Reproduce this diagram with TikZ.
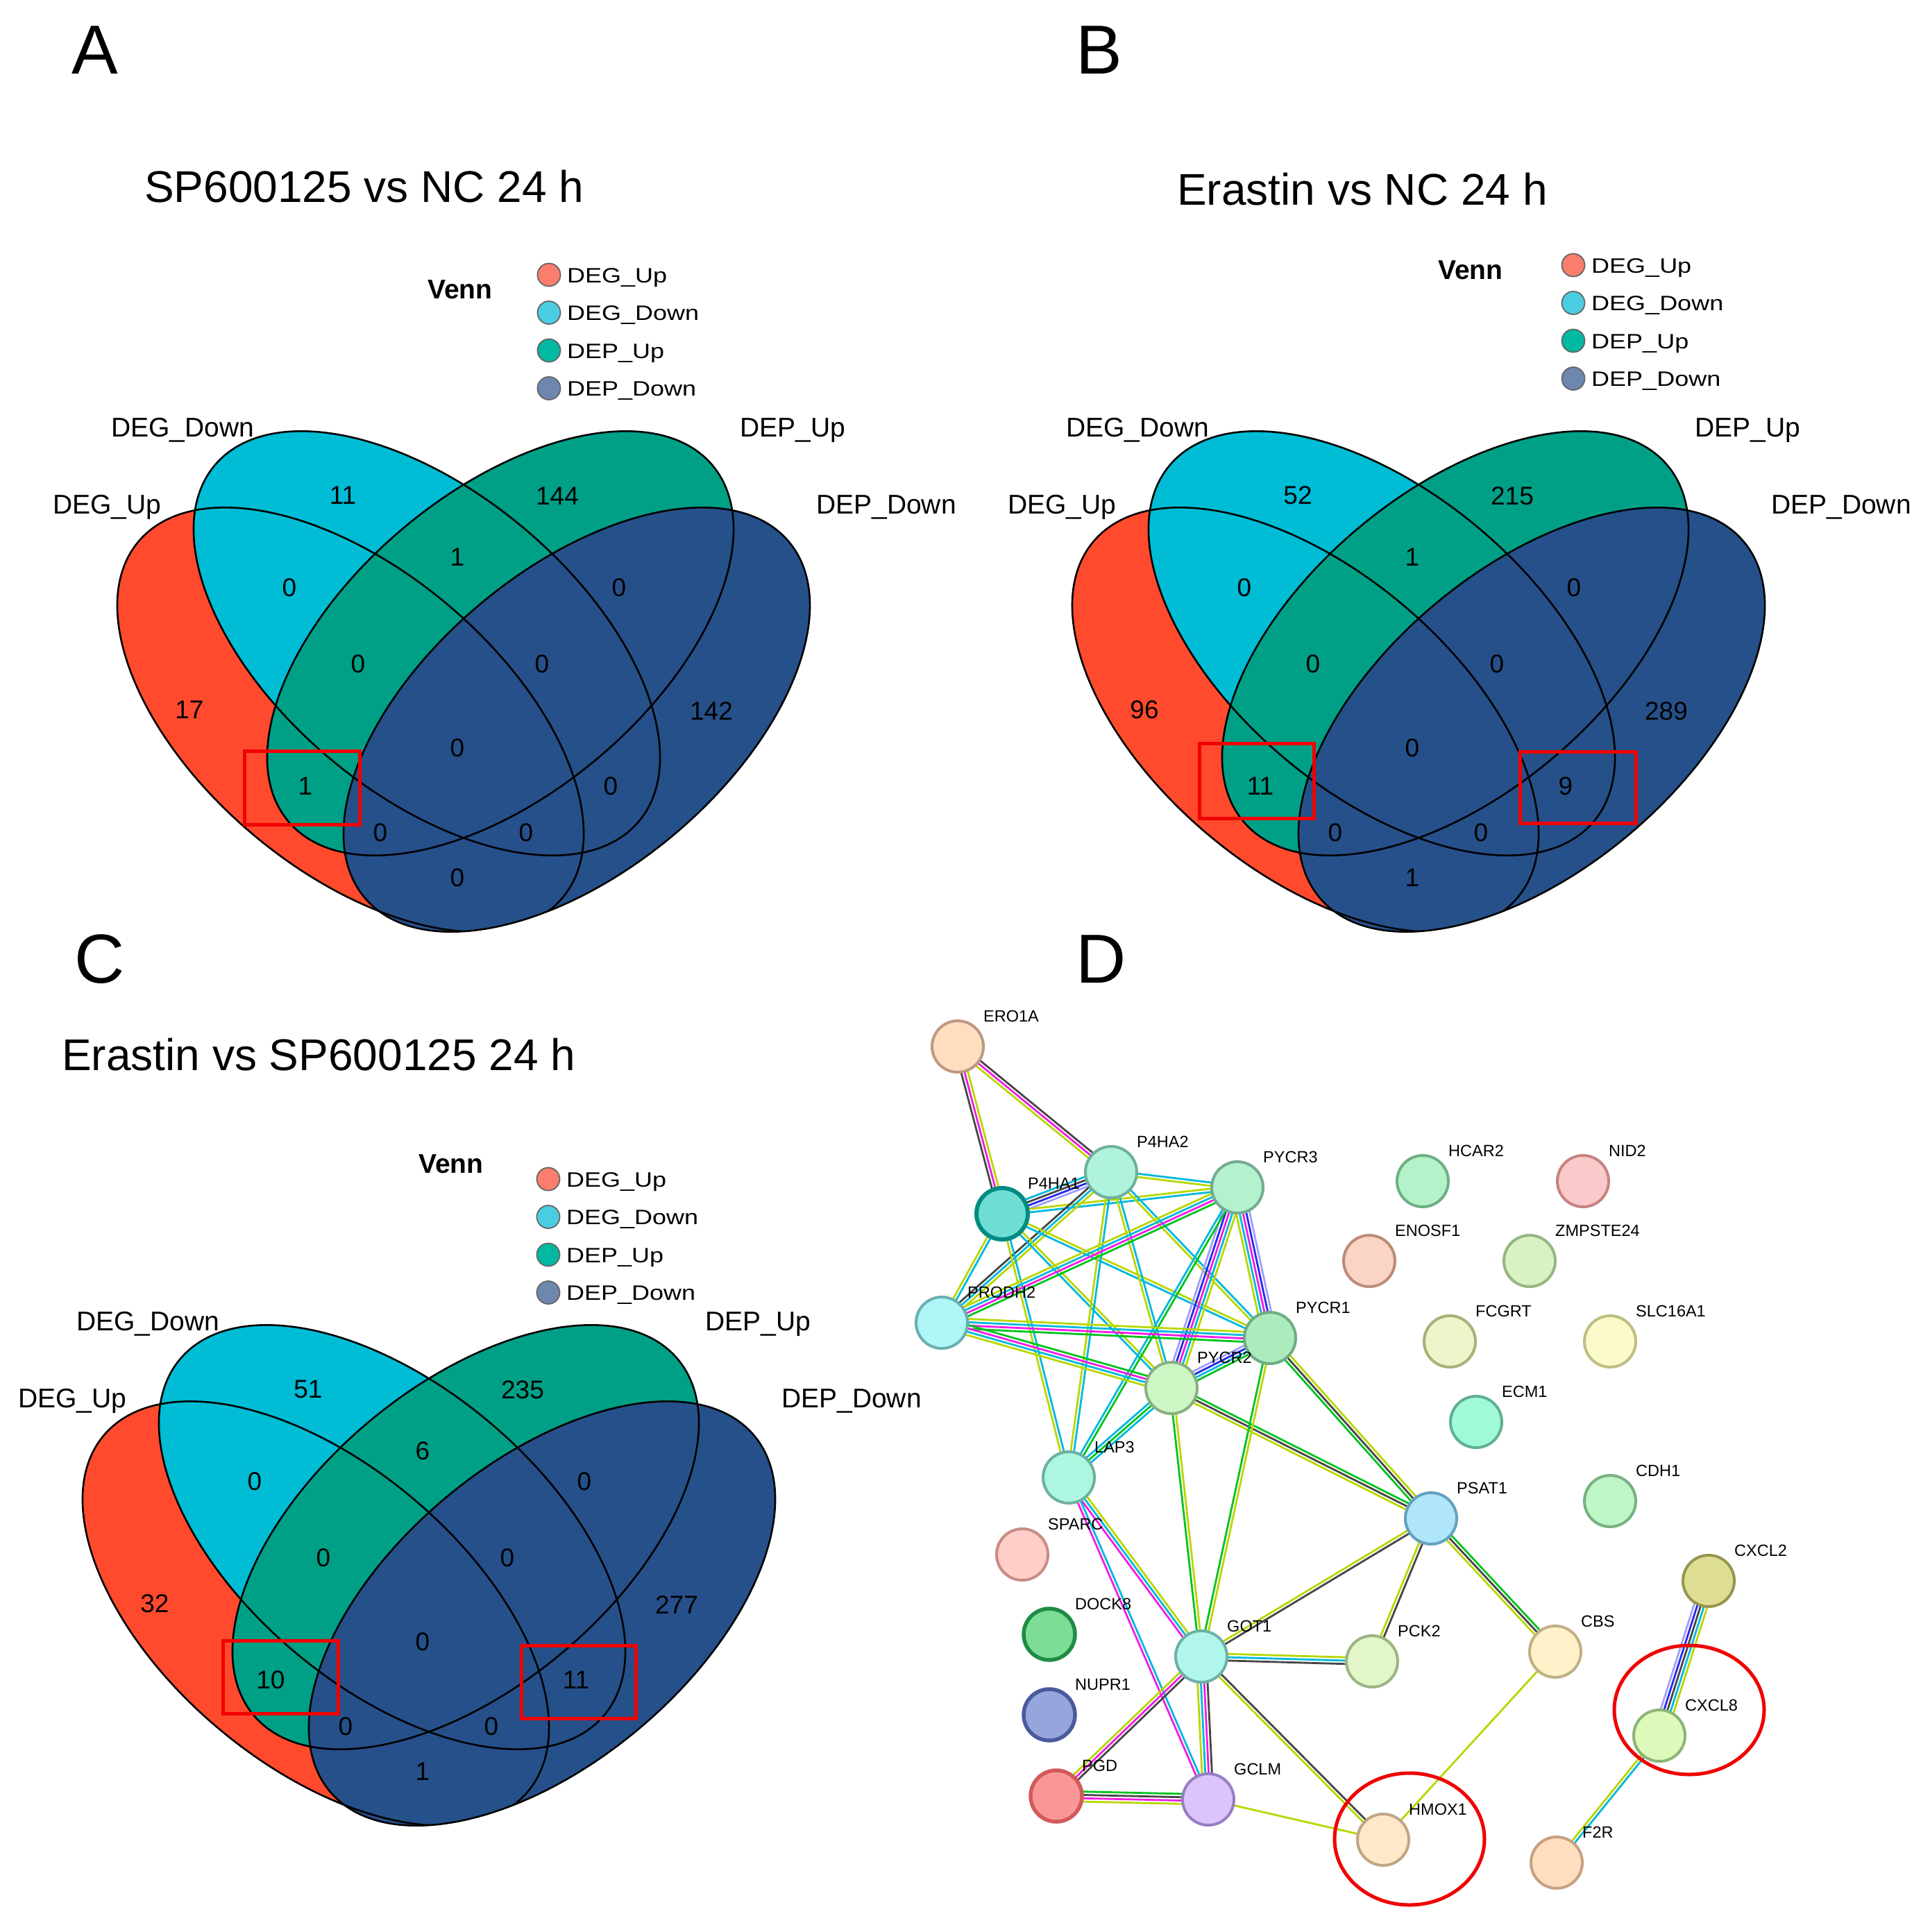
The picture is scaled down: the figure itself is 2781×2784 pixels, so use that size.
\documentclass[tikz,border=0pt]{standalone}
\usepackage{fontspec}
\setmainfont{Liberation Sans}
\newfontfamily\legfont[FakeStretch=1.2]{Liberation Sans}
\usetikzlibrary{calc,backgrounds}

\definecolor{vRed}{RGB}{255,74,46}
\definecolor{vCyan}{RGB}{0,188,213}
\definecolor{vGreen}{RGB}{0,160,135}
\definecolor{vBlue}{RGB}{38,80,138}
\definecolor{lRed}{RGB}{250,125,110}
\definecolor{lCyan}{RGB}{75,205,225}
\definecolor{lGreen}{RGB}{0,185,160}
\definecolor{lBlue}{RGB}{110,135,175}
\definecolor{eCyan}{RGB}{0,185,220}
\definecolor{eMag}{RGB}{240,30,230}
\definecolor{eGreen}{RGB}{0,195,30}
\definecolor{eYlg}{RGB}{185,215,0}
\definecolor{eBlk}{RGB}{70,70,70}
\definecolor{eBlue}{RGB}{40,40,240}
\definecolor{eLav}{RGB}{160,160,250}
\definecolor{hlRed}{RGB}{240,0,0}

% network node colours
\definecolor{fERO1A}{RGB}{255,222,192}\definecolor{dERO1A}{RGB}{192,152,130}
\definecolor{fP4HA2}{RGB}{175,242,222}\definecolor{dP4HA2}{RGB}{112,176,156}
\definecolor{fPYCR3}{RGB}{180,242,206}\definecolor{dPYCR3}{RGB}{115,172,146}
\definecolor{fP4HA1}{RGB}{110,222,212}\definecolor{dP4HA1}{RGB}{0,140,130}
\definecolor{fPRODH2}{RGB}{176,246,246}\definecolor{dPRODH2}{RGB}{105,176,176}
\definecolor{fPYCR1}{RGB}{172,236,188}\definecolor{dPYCR1}{RGB}{110,172,132}
\definecolor{fPYCR2}{RGB}{206,246,196}\definecolor{dPYCR2}{RGB}{136,176,132}
\definecolor{fLAP3}{RGB}{172,246,226}\definecolor{dLAP3}{RGB}{110,176,160}
\definecolor{fPSAT1}{RGB}{176,230,250}\definecolor{dPSAT1}{RGB}{100,160,192}
\definecolor{fSPARC}{RGB}{255,206,200}\definecolor{dSPARC}{RGB}{200,140,135}
\definecolor{fDOCK8}{RGB}{125,220,150}\definecolor{dDOCK8}{RGB}{30,140,70}
\definecolor{fGOT1}{RGB}{176,246,236}\definecolor{dGOT1}{RGB}{110,176,166}
\definecolor{fPCK2}{RGB}{226,246,200}\definecolor{dPCK2}{RGB}{156,180,132}
\definecolor{fCBS}{RGB}{255,242,202}\definecolor{dCBS}{RGB}{192,176,132}
\definecolor{fNUPR1}{RGB}{150,165,220}\definecolor{dNUPR1}{RGB}{75,90,156}
\definecolor{fPGD}{RGB}{250,150,150}\definecolor{dPGD}{RGB}{210,90,90}
\definecolor{fGCLM}{RGB}{220,196,250}\definecolor{dGCLM}{RGB}{150,126,196}
\definecolor{fHMOX1}{RGB}{255,232,202}\definecolor{dHMOX1}{RGB}{192,166,132}
\definecolor{fF2R}{RGB}{255,222,192}\definecolor{dF2R}{RGB}{200,160,130}
\definecolor{fCXCL2}{RGB}{222,222,146}\definecolor{dCXCL2}{RGB}{150,150,80}
\definecolor{fCXCL8}{RGB}{222,250,186}\definecolor{dCXCL8}{RGB}{140,180,120}
\definecolor{fHCAR2}{RGB}{180,242,202}\definecolor{dHCAR2}{RGB}{110,176,132}
\definecolor{fNID2}{RGB}{250,202,202}\definecolor{dNID2}{RGB}{200,130,130}
\definecolor{fENOSF1}{RGB}{250,212,196}\definecolor{dENOSF1}{RGB}{190,140,120}
\definecolor{fZMPSTE24}{RGB}{216,242,196}\definecolor{dZMPSTE24}{RGB}{150,182,130}
\definecolor{fFCGRT}{RGB}{236,246,202}\definecolor{dFCGRT}{RGB}{170,176,120}
\definecolor{fSLC16A1}{RGB}{250,250,202}\definecolor{dSLC16A1}{RGB}{190,190,130}
\definecolor{fECM1}{RGB}{160,250,216}\definecolor{dECM1}{RGB}{95,176,146}
\definecolor{fCDH1}{RGB}{190,246,200}\definecolor{dCDH1}{RGB}{120,176,130}

\tikzset{
  vline/.style={black, line width=2.6pt},
  vell/.style={x radius=399pt, y radius=217pt},
  setlab/.style={font=\fontsize{39}{44}\selectfont, inner sep=0pt, anchor=base west},
  vnum/.style={font=\fontsize{37}{42}\selectfont, inner sep=0pt},
  ptitle/.style={font=\fontsize{64}{72}\selectfont, inner sep=0pt, anchor=base west},
  pletter/.style={font=\fontsize{100}{110}\selectfont, inner sep=0pt, anchor=base west},
  legtitle/.style={font=\fontsize{39}{44}\selectfont\bfseries, inner sep=0pt, anchor=base west},
  legtext/.style={font=\legfont\fontsize{30}{34}\selectfont, inner sep=0pt, anchor=base west},
  legdot/.style={circle, minimum size=33pt, inner sep=0pt, draw=black!60, line width=1.8pt},
  redbox/.style={draw=hlRed, line width=5pt},
  gnode/.style={circle, minimum size=74pt, inner sep=0pt},
  glab/.style={font=\fontsize{23.5}{26}\selectfont, inner sep=0pt, anchor=base west},
  hlring/.style={draw=hlRed, line width=5pt}
}

\newcommand\vennshapes[1]{%
  \fill[vRed,   shift={(505,1037)}, rotate=-40] (0,0) ellipse [vell];
  \fill[vCyan,  shift={(615,927)},  rotate=-40] (0,0) ellipse [vell];
  \fill[vGreen, shift={(721,927)},  rotate=40]  (0,0) ellipse [vell];
  \fill[vBlue,  shift={(831,1037)}, rotate=40]  (0,0) ellipse [vell];
  \draw[vline, shift={(505,1037)}, rotate=-40] (0,0) ellipse [vell];
  \begin{scope}
    \clip (559,1240) rectangle (900,1420);
    \fill[white, even odd rule, shift={(831,1037)}, rotate=40]
      (-800,-800) rectangle (800,800) (0,0) ellipse [vell];
  \end{scope}
  \draw[vline, shift={(615,927)},  rotate=-40] (0,0) ellipse [vell];
  \draw[vline, shift={(721,927)},  rotate=40]  (0,0) ellipse [vell];
  \draw[vline, shift={(831,1037)}, rotate=40]  (0,0) ellipse [vell];
  \node[setlab] (#1-s1) at (76,740)   {DEG\_Up};
  \node[setlab] (#1-s2) at (160,629)  {DEG\_Down};
  \node[setlab] (#1-s3) at (1066,629) {DEP\_Up};
  \node[setlab] (#1-s4) at (1176,740) {DEP\_Down};
}

\newcommand\legend[6]{% prefix, venn x, venn baseline, dot x, first dot y, text x
  \node[legtitle] (#1-venn) at (#2,#3) {Venn};
  \node[legdot, fill=lRed]   (#1-d1) at (#4,#5) {};
  \node[legdot, fill=lCyan]  (#1-d2) at (#4,#5+54.5) {};
  \node[legdot, fill=lGreen] (#1-d3) at (#4,#5+109) {};
  \node[legdot, fill=lBlue]  (#1-d4) at (#4,#5+163.5) {};
  \node[legtext] (#1-t1) at (#6,#5+11)     {DEG\_Up};
  \node[legtext] (#1-t2) at (#6,#5+65.5)   {DEG\_Down};
  \node[legtext] (#1-t3) at (#6,#5+120)    {DEP\_Up};
  \node[legtext] (#1-t4) at (#6,#5+174.5)  {DEP\_Down};
}

\newcommand\gedge[3]{%
  \xdef\ecnt{0}%
  \foreach \c in {#3}{\xdef\ecnt{\the\numexpr\ecnt+1\relax}}%
  \foreach \c [count=\i] in {#3}{%
    \pgfmathsetmacro\eoff{(\i-(\ecnt+1)/2)*4.8}%
    \draw[\c, line width=2.8pt] ($(#1)!\eoff pt!90:(#2)$) -- ($(#2)!\eoff pt!-90:(#1)$);
  }%
}

\begin{document}
\begin{tikzpicture}[x=1pt,y=-1pt]
\useasboundingbox (0,0) rectangle (2781,2784);
\begin{scope}[on background layer]
  \fill[white] (0,0) rectangle (2781,2784);
\end{scope}

% ---------------- panel letters and titles
\node[pletter] (LA) at (103,106) {A};
\node[pletter] (LB) at (1550,106) {B};
\node[pletter] (LC) at (107,1416) {C};
\node[pletter] (LD) at (1550,1416) {D};
\node[ptitle] (TA) at (208,291) {SP600125 vs NC 24 h};
\node[ptitle] (TB) at (1696,295) {Erastin vs NC 24 h};
\node[ptitle] (TC) at (89,1542) {Erastin vs SP600125 24 h};

% ---------------- Venn A
\begin{scope}
  \vennshapes{A}
  \foreach \px/\py/\v [count=\k] in {494/714/11, 803/715/144, 417/847/0, 659/803/1, 892/847/0,
      516/957/0, 781/957/0, 273/1023/17, 1025/1025/142, 659/1078/0, 440/1133/1, 880/1133/0,
      548/1200/0, 758/1200/0, 659/1265/0}
    {\node[vnum] (A-n\k) at (\px,\py) {\v};}
\end{scope}
% ---------------- Venn B
\begin{scope}[shift={(1376,0)}]
  \vennshapes{B}
  \foreach \px/\py/\v [count=\k] in {494/714/52, 803/715/215, 417/847/0, 659/803/1, 892/847/0,
      516/957/0, 781/957/0, 273/1023/96, 1025/1025/289, 659/1078/0, 440/1133/11, 880/1133/9,
      548/1200/0, 758/1200/0, 659/1265/1}
    {\node[vnum] (B-n\k) at (\px,\py) {\v};}
\end{scope}
% ---------------- Venn C
\begin{scope}[shift={(-50,1288)}]
  \vennshapes{C}
  \foreach \px/\py/\v [count=\k] in {494/714/51, 803/715/235, 417/847/0, 659/803/6, 892/847/0,
      516/957/0, 781/957/0, 273/1023/32, 1025/1025/277, 659/1078/0, 440/1133/10, 880/1133/11,
      548/1200/0, 758/1200/0, 659/1265/1}
    {\node[vnum] (C-n\k) at (\px,\py) {\v};}
\end{scope}

% red highlight boxes
\draw[redbox] (352,1082) rectangle (518,1188);
\draw[redbox] (1728,1071) rectangle (1893,1179);
\draw[redbox] (2190,1083) rectangle (2357,1186);
\draw[redbox] (321,2364) rectangle (487,2469);
\draw[redbox] (751,2371) rectangle (916,2476);

% legends
\legend{LgA}{616}{430}{791}{396}{817}
\legend{LgB}{2072}{402}{2267}{382}{2293}
\legend{LgC}{603}{1690}{790}{1699}{816}

% ---------------- network (panel D)
\foreach \n/\x/\y/\w in {ERO1A/1380/1508/4, P4HA2/1601/1689/4, PYCR3/1783/1711/4,
    P4HA1/1444/1749/6, PRODH2/1357/1906/4, PYCR1/1830/1928/4, PYCR2/1688/2000/4,
    LAP3/1540/2129/4, PSAT1/2062/2188/4, SPARC/1473/2240/4, DOCK8/1512/2355/5.5,
    GOT1/1731/2387/4, PCK2/1977/2394/4, CBS/2241/2380/4, NUPR1/1512/2471/5.5,
    PGD/1522/2588/5.5, GCLM/1741/2593/4, HMOX1/1993/2651/4, F2R/2243/2684/4,
    CXCL2/2462/2278/4, CXCL8/2391/2501/4, HCAR2/2050/1702/4, NID2/2281/1702/4,
    ENOSF1/1973/1817/4, ZMPSTE24/2204/1817/4, FCGRT/2089/1933/4, SLC16A1/2320/1933/4,
    ECM1/2127/2049/4, CDH1/2320/2163/4}
  {\node[gnode, fill=f\n, draw=d\n, line width=\w pt] (\n) at (\x,\y) {};}
\foreach \n in {ERO1A, P4HA2, PYCR3, P4HA1, PRODH2, PYCR1, PYCR2, LAP3, PSAT1, SPARC,
    DOCK8, GOT1, PCK2, CBS, NUPR1, PGD, GCLM, HMOX1, F2R, CXCL2, CXCL8, HCAR2, NID2,
    ENOSF1, ZMPSTE24, FCGRT, SLC16A1, ECM1, CDH1}
  {\node[glab] (\n-lab) at ($(\n)+(37,-36)$) {\n};}

\begin{scope}[on background layer]
  \gedge{ERO1A}{P4HA2}{eYlg,eMag,eBlk}
  \gedge{ERO1A}{P4HA1}{eBlk,eMag,eYlg}
  \gedge{P4HA1}{P4HA2}{eLav,eBlue,eBlk,eCyan}
  \gedge{P4HA1}{PYCR3}{eCyan,eYlg}
  \gedge{P4HA2}{PYCR3}{eYlg,eCyan}
  \gedge{P4HA2}{PRODH2}{eBlk,eCyan,eYlg}
  \gedge{P4HA1}{PRODH2}{eYlg,eCyan}
  \gedge{P4HA1}{PYCR1}{eCyan,eYlg}
  \gedge{P4HA1}{PYCR2}{eCyan,eYlg}
  \gedge{P4HA1}{LAP3}{eYlg,eCyan}
  \gedge{P4HA2}{PYCR1}{eYlg,eCyan}
  \gedge{P4HA2}{PYCR2}{eYlg,eCyan}
  \gedge{P4HA2}{LAP3}{eYlg,eCyan}
  \gedge{PYCR3}{PRODH2}{eYlg,eCyan,eMag,eGreen}
  \gedge{PYCR3}{PYCR2}{eLav,eBlue,eMag,eCyan,eYlg}
  \gedge{PYCR3}{PYCR1}{eYlg,eCyan,eMag,eBlue,eLav}
  \gedge{PYCR3}{LAP3}{eCyan,eGreen}
  \gedge{PRODH2}{PYCR1}{eGreen,eMag,eCyan,eYlg}
  \gedge{PRODH2}{PYCR2}{eYlg,eCyan,eMag,eGreen}
  \gedge{PYCR1}{PYCR2}{eLav,eBlue,eCyan,eGreen}
  \gedge{PYCR2}{LAP3}{eCyan,eGreen,eCyan}
  \gedge{PYCR2}{PSAT1}{eYlg,eBlk,eGreen}
  \gedge{PYCR1}{PSAT1}{eGreen,eBlk,eYlg}
  \gedge{PYCR2}{GOT1}{eGreen,eYlg}
  \gedge{PYCR1}{GOT1}{eGreen,eYlg}
  \gedge{LAP3}{GOT1}{eMag,eCyan,eYlg}
  \gedge{LAP3}{GCLM}{eMag,eCyan}
  \gedge{PSAT1}{GOT1}{eYlg,eBlk}
  \gedge{GOT1}{PCK2}{eBlk,eCyan,eYlg}
  \gedge{GOT1}{PGD}{eYlg,eMag,eBlk}
  \gedge{GOT1}{GCLM}{eYlg,eCyan,eMag,eBlk}
  \gedge{GOT1}{HMOX1}{eYlg,eBlk}
  \gedge{PGD}{GCLM}{eYlg,eMag,eBlk,eGreen}
  \gedge{GCLM}{HMOX1}{eYlg}
  \gedge{PSAT1}{PCK2}{eYlg,eBlk}
  \gedge{PSAT1}{CBS}{eYlg,eBlk,eGreen}
  \gedge{CBS}{HMOX1}{eYlg}
  \gedge{CXCL2}{CXCL8}{eLav,eBlue,eBlk,eCyan,eYlg}
  \gedge{CXCL8}{F2R}{eYlg,eCyan}
\end{scope}

% highlight rings
\draw[hlring] (2031,2650) ellipse [x radius=108pt, y radius=95pt];
\draw[hlring] (2434,2464) ellipse [x radius=108pt, y radius=93pt];
\end{tikzpicture}
\end{document}
